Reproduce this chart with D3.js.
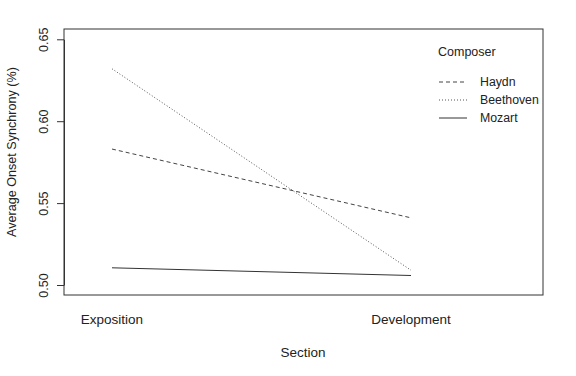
<!DOCTYPE html>
<html><head><meta charset="utf-8">
<script src="https://cdn.jsdelivr.net/npm/d3@7"></script>
<style>body{margin:0;background:#fff}svg{display:block}text{font-family:"Liberation Sans",Arial,Helvetica,sans-serif;fill:#222}</style>
</head><body>
<script>
const sections = ["Exposition", "Development"];
const composers = ["Haydn", "Beethoven", "Mozart"];
const haydn = [0.583, 0.541];
const beethoven = [0.632, 0.509];
const mozart = [0.5105, 0.5058];
const yTicks = [0.50, 0.55, 0.60, 0.65];

const W = 576, H = 376;
const box = {l: 64, r: 543, t: 29, b: 295};
const svg = d3.select("body").append("svg").attr("width", W).attr("height", H);

const x = d3.scalePoint().domain(sections).range([112, 411]);
const y = d3.scaleLinear().domain([0.50, 0.65]).range([285, 39.3]);

const seriesStyle = {
  Haydn: {dash: "4,3", color: "#444", width: 1},
  Beethoven: {dash: "1,2", color: "#555", width: 1},
  Mozart: {dash: null, color: "#333", width: 1}
};
const seriesData = {Haydn: haydn, Beethoven: beethoven, Mozart: mozart};

// box
svg.append("rect").attr("x", box.l).attr("y", box.t)
  .attr("width", box.r - box.l).attr("height", box.b - box.t)
  .attr("fill", "none").attr("stroke", "#333").attr("stroke-width", 1);

// y axis
const yAxis = d3.axisLeft(y).tickValues(yTicks).tickFormat(d3.format(".2f")).tickSize(7).tickSizeOuter(0);
const gy = svg.append("g").attr("transform", `translate(${box.l},0)`).call(yAxis);
gy.select(".domain").attr("stroke", "#333");
gy.selectAll(".tick line").attr("stroke", "#333");
gy.selectAll(".tick text")
  .attr("font-size", 12.5).attr("fill", "#222")
  .each(function(d){
    d3.select(this).attr("x", null).attr("dy", null)
      .attr("text-anchor", "middle")
      .attr("transform", `translate(-20,0) rotate(-90)`)
      .attr("dominant-baseline", "central");
  });

// x labels (no ticks)
svg.append("g").selectAll("text").data(sections).join("text")
  .attr("x", d => x(d)).attr("y", 324).attr("text-anchor", "middle")
  .attr("font-size", 13.5).text(d => d);

// axis titles
svg.append("text").attr("x", 303).attr("y", 357).attr("text-anchor", "middle")
  .attr("font-size", 13.5).text("Section");
svg.append("text").attr("transform", `translate(16,152) rotate(-90)`)
  .attr("text-anchor", "middle").attr("font-size", 12.6).text("Average Onset Synchrony (%)");

// lines
const line = d3.line().x((d, i) => x(sections[i])).y(d => y(d));
composers.forEach(c => {
  const s = seriesStyle[c];
  svg.append("path").datum(seriesData[c]).attr("d", line)
    .attr("fill", "none").attr("stroke", s.color).attr("stroke-width", s.width)
    .attr("stroke-dasharray", s.dash);
});

// legend
const lg = svg.append("g");
lg.append("text").attr("x", 438).attr("y", 56).attr("font-size", 12.5).text("Composer");
composers.forEach((c, i) => {
  const yy = 82 + i * 18;
  const s = seriesStyle[c];
  lg.append("line").attr("x1", 439).attr("x2", 467).attr("y1", yy).attr("y2", yy)
    .attr("stroke", s.color).attr("stroke-width", s.width).attr("stroke-dasharray", s.dash);
  lg.append("text").attr("x", 480).attr("y", yy + 4).attr("font-size", 12.3).text(c);
});
</script>
</body></html>
